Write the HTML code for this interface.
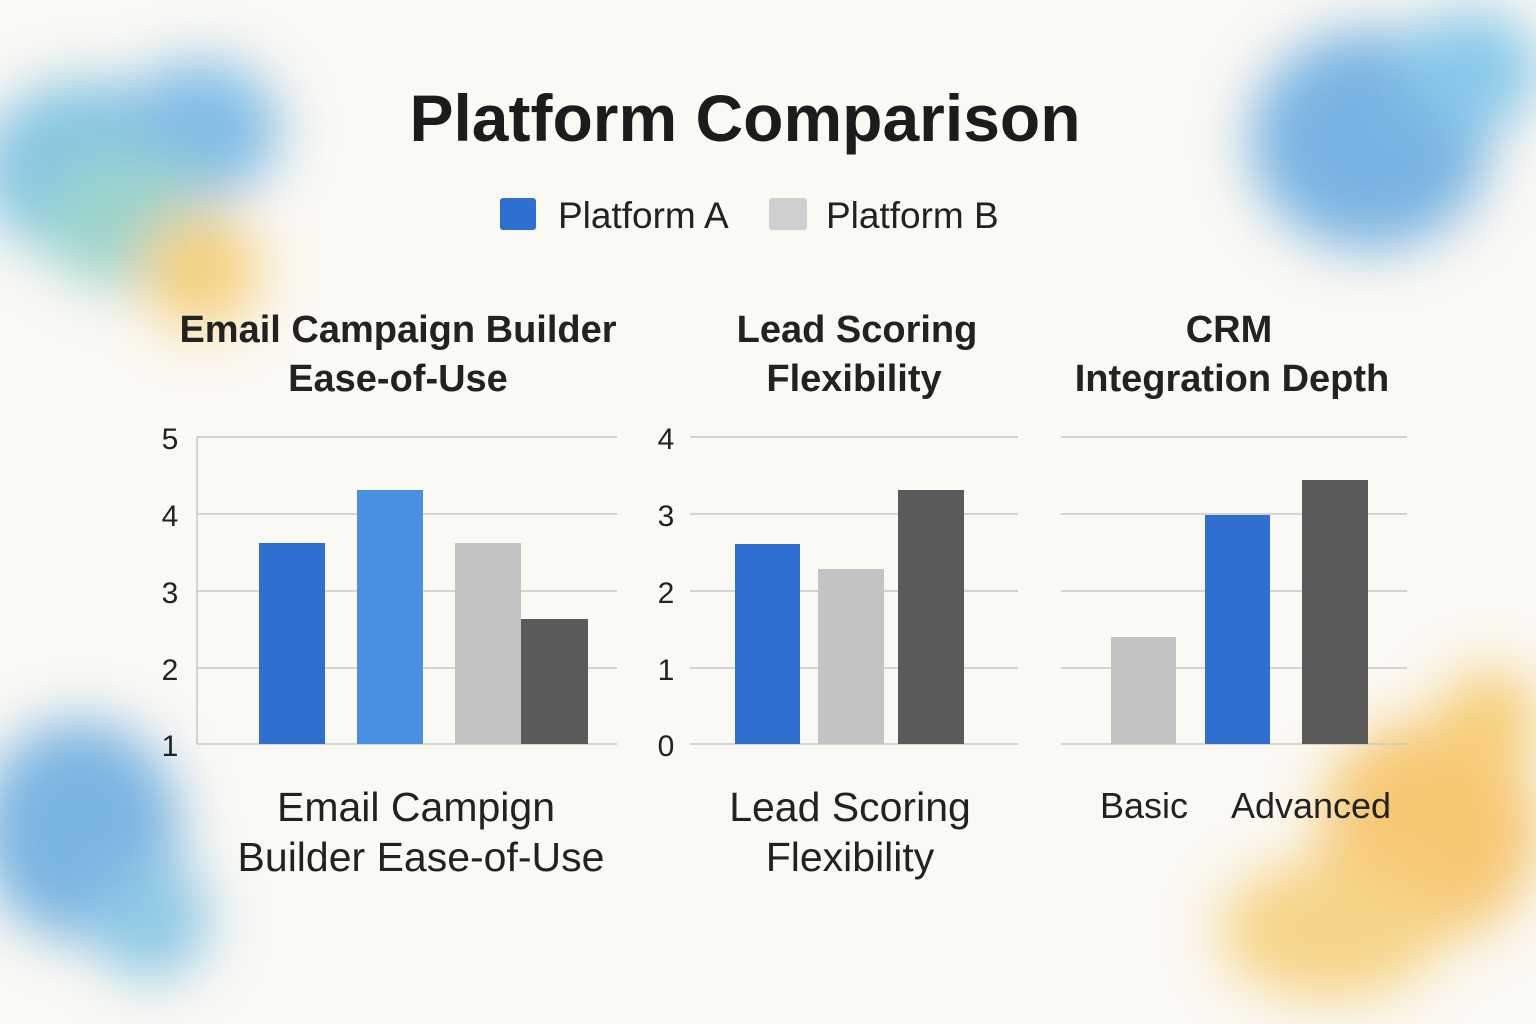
<!DOCTYPE html>
<html><head><meta charset="utf-8"><style>
html,body{margin:0;padding:0;background:#fbf9f4;}
svg{display:block;font-family:"Liberation Sans","DejaVu Sans",sans-serif;}
</style></head><body>
<svg width="1536" height="1024" viewBox="0 0 1536 1024" xmlns="http://www.w3.org/2000/svg">
<defs>
<filter id="b" x="-50%" y="-50%" width="200%" height="200%"><feGaussianBlur stdDeviation="28"/></filter>
</defs>
<rect width="1536" height="1024" fill="#fbf9f4"/>
<g filter="url(#b)" opacity="0.75">
<ellipse cx="90" cy="170" rx="110" ry="90" fill="#5fb3dc"/>
<ellipse cx="200" cy="130" rx="80" ry="70" fill="#5aa8e0"/>
<ellipse cx="130" cy="220" rx="90" ry="70" fill="#7cc8c0"/>
<ellipse cx="200" cy="270" rx="60" ry="60" fill="#f2c558"/>
<ellipse cx="1370" cy="140" rx="120" ry="110" fill="#4e9bdc"/>
<ellipse cx="1470" cy="70" rx="70" ry="60" fill="#62b8e6"/>
<ellipse cx="80" cy="830" rx="100" ry="110" fill="#4f9ddb"/>
<ellipse cx="150" cy="920" rx="60" ry="60" fill="#6ab8e0"/>
<ellipse cx="1430" cy="830" rx="110" ry="110" fill="#f4b84a"/>
<ellipse cx="1330" cy="930" rx="110" ry="70" fill="#f6c865"/>
<ellipse cx="1490" cy="720" rx="50" ry="50" fill="#f5c050"/>
</g>
<text x="745" y="141" text-anchor="middle" font-size="66" font-weight="bold" fill="#1c1c1c">Platform Comparison</text>
<rect x="500" y="198" width="36" height="32" rx="3" fill="#2f6fd0"/>
<text x="558" y="228" font-size="37" fill="#222">Platform A</text>
<rect x="769" y="198" width="38" height="32" rx="3" fill="#cfcfcf"/>
<text x="826" y="228" font-size="37" fill="#222">Platform B</text>
<g font-size="38" font-weight="bold" fill="#222" text-anchor="middle">
<text x="398" y="342">Email Campaign Builder</text>
<text x="398" y="391">Ease-of-Use</text>
<text x="857" y="342">Lead Scoring</text>
<text x="854" y="391">Flexibility</text>
<text x="1229" y="342">CRM</text>
<text x="1232" y="391">Integration Depth</text>
</g>
<g stroke="#c8c8c8" stroke-width="1.5">
<line x1="197" y1="437" x2="617" y2="437"/><line x1="197" y1="514" x2="617" y2="514"/><line x1="197" y1="591" x2="617" y2="591"/><line x1="197" y1="668" x2="617" y2="668"/><line x1="197" y1="744" x2="617" y2="744"/>
<line x1="197" y1="437" x2="197" y2="744"/>
<line x1="690" y1="437" x2="1018" y2="437"/><line x1="690" y1="514" x2="1018" y2="514"/><line x1="690" y1="591" x2="1018" y2="591"/><line x1="690" y1="668" x2="1018" y2="668"/><line x1="690" y1="744" x2="1018" y2="744"/>
<line x1="1061" y1="437" x2="1407" y2="437"/><line x1="1061" y1="514" x2="1407" y2="514"/><line x1="1061" y1="591" x2="1407" y2="591"/><line x1="1061" y1="668" x2="1407" y2="668"/><line x1="1061" y1="744" x2="1407" y2="744"/>
</g>
<g font-size="30" fill="#222" text-anchor="middle">
<text x="170" y="449">5</text><text x="170" y="526">4</text><text x="170" y="603">3</text><text x="170" y="680">2</text><text x="170" y="756">1</text>
<text x="666" y="449">4</text><text x="666" y="526">3</text><text x="666" y="603">2</text><text x="666" y="680">1</text><text x="666" y="756">0</text>
</g>
<g>
<rect x="259" y="543" width="66" height="201" fill="#2f6fd0"/>
<rect x="357" y="490" width="66" height="254" fill="#4a90e2"/>
<rect x="455" y="543" width="66" height="201" fill="#c4c4c4"/>
<rect x="521" y="619" width="67" height="125" fill="#5a5a5a"/>
<rect x="735" y="544" width="65" height="200" fill="#2f6fd0"/>
<rect x="818" y="569" width="66" height="175" fill="#c4c4c4"/>
<rect x="898" y="490" width="66" height="254" fill="#5a5a5a"/>
<rect x="1111" y="637" width="65" height="107" fill="#c4c4c4"/>
<rect x="1205" y="515" width="65" height="229" fill="#2f6fd0"/>
<rect x="1302" y="480" width="66" height="264" fill="#5a5a5a"/>
</g>
<g font-size="41" fill="#222" text-anchor="middle">
<text x="416" y="821">Email Campign</text>
<text x="421" y="871">Builder Ease-of-Use</text>
<text x="850" y="821">Lead Scoring</text>
<text x="850" y="871">Flexibility</text>
</g>
<g font-size="36" fill="#222" text-anchor="middle">
<text x="1144" y="818">Basic</text>
<text x="1311" y="818">Advanced</text>
</g>
</svg>
</body></html>
